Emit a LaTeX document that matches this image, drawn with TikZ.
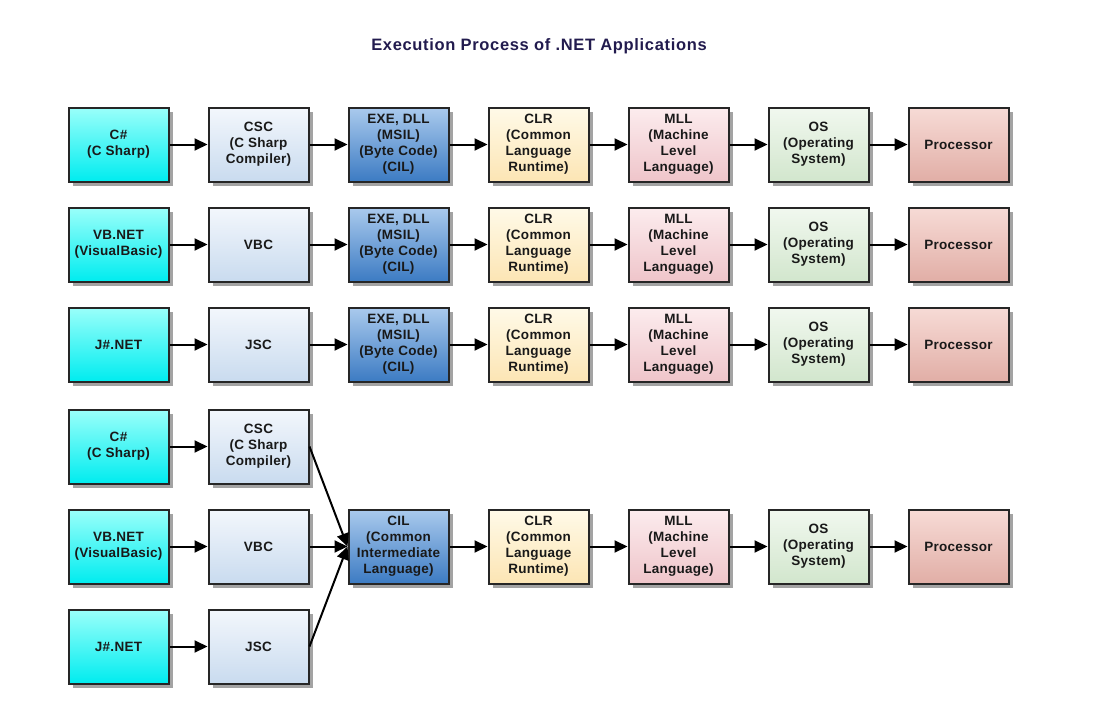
\documentclass[tikz,border=0pt]{standalone}
\usepackage{fontspec}
\setmainfont{Liberation Sans}
\newfontfamily\boxfont[LetterSpace=2]{Liberation Sans}
\newfontfamily\titlefont[LetterSpace=4]{Liberation Sans}
\usepackage{tikz}
\usetikzlibrary{arrows.meta,positioning,shadows}

\definecolor{titleblue}{HTML}{221B4E}
\definecolor{srcTop}{HTML}{9AFFFA}
\definecolor{srcBot}{HTML}{00ECEF}
\definecolor{cmpTop}{HTML}{F3F7FC}
\definecolor{cmpBot}{HTML}{C9DBEF}
\definecolor{ilTop}{HTML}{AACAED}
\definecolor{ilBot}{HTML}{3C7BC3}
\definecolor{clrTop}{HTML}{FFFAE8}
\definecolor{clrBot}{HTML}{FCE5B4}
\definecolor{mllTop}{HTML}{FCECEE}
\definecolor{mllBot}{HTML}{EFC5CA}
\definecolor{osTop}{HTML}{F1F8EF}
\definecolor{osBot}{HTML}{D2E6CD}
\definecolor{cpuTop}{HTML}{F7DBD6}
\definecolor{cpuBot}{HTML}{E1AEA6}

\begin{document}
\begin{tikzpicture}[x=1pt, y=-1pt, node distance=38pt,
	every node/.style = {font=\boxfont\fontsize{13.5}{16}\selectfont\bfseries, text=black!90},
	box/.style = {shape=rectangle, draw=black!85, line width=2pt, align=center,
		minimum width=100pt, minimum height=74pt, inner sep=2pt,
		drop shadow={shadow xshift=4.5pt, shadow yshift=-4.5pt, fill=black!45, opacity=0.8}},
	src/.style = {box, top color=srcTop, bottom color=srcBot},
	cmp/.style = {box, top color=cmpTop, bottom color=cmpBot},
	il/.style  = {box, top color=ilTop, bottom color=ilBot},
	clr/.style = {box, top color=clrTop, bottom color=clrBot},
	mll/.style = {box, top color=mllTop, bottom color=mllBot},
	os/.style  = {box, top color=osTop, bottom color=osBot},
	cpu/.style = {box, top color=cpuTop, bottom color=cpuBot},
	link/.style = {-{Triangle[length=13pt,width=12pt]}, line width=2pt, black}]
	\useasboundingbox (0,0) rectangle (1100,717);

	\node[font=\titlefont\fontsize{16.5}{19}\selectfont\bfseries, text=titleblue] (title) at (539,46) {Execution Process of .NET Applications};

	% C# row
	\node[src] (src1) at (118.5,144.5) {C\#\\(C Sharp)};
	\node[cmp, right=of src1] (cmp1) {CSC\\(C Sharp\\Compiler)};
	\node[il, right=of cmp1] (il1) {EXE, DLL\\(MSIL)\\(Byte Code)\\(CIL)};
	\node[clr, right=of il1] (clr1) {CLR\\(Common\\Language\\Runtime)};
	\node[mll, right=of clr1] (mll1) {MLL\\(Machine\\Level\\Language)};
	\node[os, right=of mll1] (os1) {OS\\(Operating\\System)};
	\node[cpu, right=of os1] (cpu1) {Processor};

	% VB.NET row
	\node[src] (src2) at (118.5,244.5) {VB.NET\\(VisualBasic)};
	\node[cmp, right=of src2] (cmp2) {VBC};
	\node[il, right=of cmp2] (il2) {EXE, DLL\\(MSIL)\\(Byte Code)\\(CIL)};
	\node[clr, right=of il2] (clr2) {CLR\\(Common\\Language\\Runtime)};
	\node[mll, right=of clr2] (mll2) {MLL\\(Machine\\Level\\Language)};
	\node[os, right=of mll2] (os2) {OS\\(Operating\\System)};
	\node[cpu, right=of os2] (cpu2) {Processor};

	% J#.NET row
	\node[src] (src3) at (118.5,344.5) {J\#.NET};
	\node[cmp, right=of src3] (cmp3) {JSC};
	\node[il, right=of cmp3] (il3) {EXE, DLL\\(MSIL)\\(Byte Code)\\(CIL)};
	\node[clr, right=of il3] (clr3) {CLR\\(Common\\Language\\Runtime)};
	\node[mll, right=of clr3] (mll3) {MLL\\(Machine\\Level\\Language)};
	\node[os, right=of mll3] (os3) {OS\\(Operating\\System)};
	\node[cpu, right=of os3] (cpu3) {Processor};

	% common pipeline
	\node[src] (src4) at (118.5,446.5) {C\#\\(C Sharp)};
	\node[cmp, right=of src4] (cmp4) {CSC\\(C Sharp\\Compiler)};
	\node[src] (src5) at (118.5,546.5) {VB.NET\\(VisualBasic)};
	\node[cmp, right=of src5] (cmp5) {VBC};
	\node[il, right=of cmp5] (cil) {CIL\\(Common\\Intermediate\\Language)};
	\node[clr, right=of cil] (clr5) {CLR\\(Common\\Language\\Runtime)};
	\node[mll, right=of clr5] (mll5) {MLL\\(Machine\\Level\\Language)};
	\node[os, right=of mll5] (os5) {OS\\(Operating\\System)};
	\node[cpu, right=of os5] (cpu5) {Processor};
	\node[src] (src6) at (118.5,646.5) {J\#.NET};
	\node[cmp, right=of src6] (cmp6) {JSC};

	\draw[link] (src1) -- (cmp1); \draw[link] (cmp1) -- (il1); \draw[link] (il1) -- (clr1);
	\draw[link] (clr1) -- (mll1); \draw[link] (mll1) -- (os1); \draw[link] (os1) -- (cpu1);
	\draw[link] (src2) -- (cmp2); \draw[link] (cmp2) -- (il2); \draw[link] (il2) -- (clr2);
	\draw[link] (clr2) -- (mll2); \draw[link] (mll2) -- (os2); \draw[link] (os2) -- (cpu2);
	\draw[link] (src3) -- (cmp3); \draw[link] (cmp3) -- (il3); \draw[link] (il3) -- (clr3);
	\draw[link] (clr3) -- (mll3); \draw[link] (mll3) -- (os3); \draw[link] (os3) -- (cpu3);
	\draw[link] (src4) -- (cmp4); \draw[link] (src5) -- (cmp5); \draw[link] (src6) -- (cmp6);
	\draw[link] (cmp4.east) -- (cil.west);
	\draw[link] (cmp5) -- (cil);
	\draw[link] (cmp6.east) -- (cil.west);
	\draw[link] (cil) -- (clr5); \draw[link] (clr5) -- (mll5);
	\draw[link] (mll5) -- (os5); \draw[link] (os5) -- (cpu5);
\end{tikzpicture}
\end{document}
